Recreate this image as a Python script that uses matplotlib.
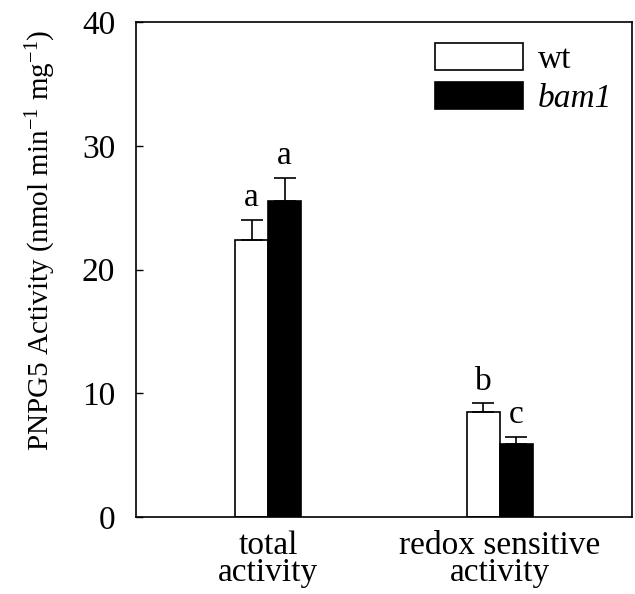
import numpy as np
import matplotlib
matplotlib.use("Agg")
import matplotlib.pyplot as plt

plt.rcParams['font.family'] = ['Liberation Serif', 'DejaVu Serif']
plt.rcParams['mathtext.fontset'] = 'custom'
plt.rcParams['mathtext.rm'] = 'Liberation Serif'
plt.rcParams['mathtext.it'] = 'Liberation Serif:italic'

# 數據
categories = ["total\nactivity", "redox sensitive\nactivity"]
wt_values = [22.4, 8.5]
wt_errors = [1.6, 0.7]
bam1_values = [25.5, 5.9]
bam1_errors = [1.9, 0.6]
wt_letters = ["a", "b"]
bam1_letters = ["a", "c"]

FS = 24

fig = plt.figure(figsize=(6.35, 5.94), dpi=100)
ax = fig.add_axes([136 / 635, 1 - 517 / 594, 496 / 635, 495 / 594])

x = np.arange(len(categories))
w = 0.142
err_kw = dict(ecolor='black', capsize=8, elinewidth=1.2, capthick=1.2)

ax.bar(x - w / 2, wt_values, w, color='white', edgecolor='black', linewidth=1.2,
       label='wt', zorder=2)
ax.errorbar(x - w / 2, wt_values, yerr=[np.zeros(2), wt_errors], fmt='none', **err_kw)
ax.bar(x + w / 2, bam1_values, w, color='black', edgecolor='black', linewidth=1.2,
       label='bam1', zorder=2)
ax.errorbar(x + w / 2, bam1_values, yerr=[np.zeros(2), bam1_errors], fmt='none', **err_kw)

# 顯著性字母
for i in range(len(categories)):
    ax.text(x[i] - w / 2, wt_values[i] + wt_errors[i] + 1.1, wt_letters[i],
            ha='center', va='baseline', fontsize=FS)
    ax.text(x[i] + w / 2, bam1_values[i] + bam1_errors[i] + 1.1, bam1_letters[i],
            ha='center', va='baseline', fontsize=FS)

ax.set_xlim(-0.57, 1.57)
ax.set_ylim(0, 40)
ax.set_yticks([0, 10, 20, 30, 40])
ax.set_xticks(x)
ax.set_xticklabels(categories, fontsize=FS, linespacing=0.85)
ax.tick_params(axis='x', length=0, pad=10)
ax.tick_params(axis='y', direction='in', length=5, width=1, labelsize=FS, pad=15)
for s in ax.spines.values():
    s.set_linewidth(1.2)

ax.set_ylabel('PNPG5 Activity (nmol min$^{-1}$ mg$^{-1}$)', fontsize=21)
ax.yaxis.set_label_coords(-0.158, 0.56)

leg = ax.legend(loc='upper left', bbox_to_anchor=(0.575, 0.985), frameon=False,
                fontsize=FS, handlelength=2.65, handleheight=0.9, handletextpad=0.45,
                labelspacing=0.2, borderaxespad=0)
leg.get_texts()[1].set_fontstyle('italic')

fig.savefig("out.png", dpi=100)
